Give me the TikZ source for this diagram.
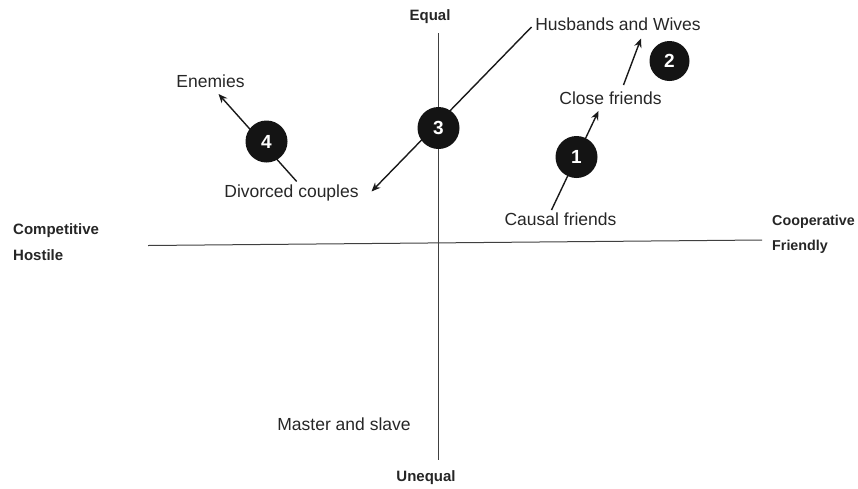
\documentclass[tikz,border=0pt]{standalone}
\usepackage{fontspec}
\setmainfont{Liberation Sans}
\usetikzlibrary{arrows.meta}
\begin{document}
\begin{tikzpicture}[x=1pt,y=-1pt,
  lbl/.style={font=\fontsize{17.5}{20}\selectfont, text=black!85, inner sep=0pt},
  axislbl/.style={font=\fontsize{15}{17}\selectfont\bfseries, text=black!85, inner sep=0pt},
  badge/.style={circle, fill=black!92, minimum size=42pt, inner sep=0pt,
    font=\fontsize{19}{21}\selectfont\bfseries, text=white},
  axis/.style={draw=black!75, line width=1pt},
  arr/.style={draw=black!90, line width=1.4pt, -{Stealth[length=9pt,width=7.5pt]}},
  plain/.style={draw=black!90, line width=1.4pt}]
\useasboundingbox (0,0) rectangle (858,488);

% axis end points
\coordinate (vtop) at (438.5,33);
\coordinate (vbot) at (438.5,460);
\coordinate (hleft) at (148,245.5);
\coordinate (hright) at (762,240);
\draw[axis] (vtop) -- (vbot);
\draw[axis] (hleft) -- (hright);

% axis labels
\node[axislbl] (equal) at (430,17) {Equal};
\node[axislbl] (unequal) at (426,478) {Unequal};
\node[axislbl, anchor=west] (compet) at (13,230.5) {Competitive};
\node[axislbl, anchor=west] (hostile) at (13,255) {Hostile};
\node[axislbl, anchor=west, font=\fontsize{14.3}{17}\selectfont\bfseries] (coop) at (772,221.5) {Cooperative};
\node[axislbl, anchor=west, font=\fontsize{14.3}{17}\selectfont\bfseries] (friendly) at (772,246.5) {Friendly};

% relationship labels
\node[lbl] (enemies) at (210.5,81) {Enemies};
\node[lbl] (divorced) at (291.5,193) {Divorced couples};
\node[lbl] (husbands) at (618,24) {Husbands and Wives};
\node[lbl] (close) at (610.5,98) {Close friends};
\node[lbl] (causal) at (560.5,219) {Causal friends};
\node[lbl] (master) at (344,424) {Master and slave};

% arrow end points
\coordinate (e4a) at (296.7,181.5);
\coordinate (e4b) at (218.5,94);
\coordinate (e3a) at (531.5,27);
\coordinate (e3b) at (371.5,191.5);
\coordinate (e1a) at (551.5,210);
\coordinate (e1b) at (598.5,111);
\coordinate (e2a) at (623.5,85);
\coordinate (e2b) at (641,38.5);

% arrows
\draw[arr] (e4a) -- (e4b);
\draw[arr] (e3a) -- (e3b);
\draw[arr] (e1a) -- (e1b);
\draw[arr] (e2a) -- (e2b);

% numbered badges
\node[badge] (b1) at (576.5,157) {1};
\node[badge, minimum size=40pt] (b2) at (669.5,61) {2};
\node[badge] (b3) at (438.5,128) {3};
\node[badge] (b4) at (266.5,141.5) {4};
\end{tikzpicture}
\end{document}
